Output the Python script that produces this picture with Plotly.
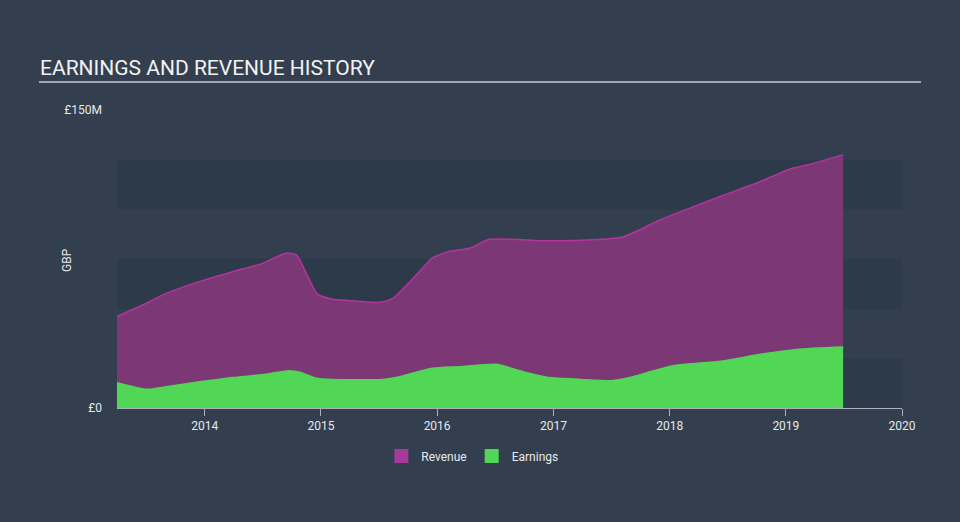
import plotly.graph_objects as go

rev_dates = ["2013-03-31", "2013-07-11", "2013-09-02", "2013-12-15", "2014-03-29", "2014-07-01",
             "2014-09-13", "2014-10-16", "2014-11-20", "2014-12-20", "2015-02-06", "2015-04-10",
             "2015-07-02", "2015-08-15", "2015-10-27", "2015-12-17", "2016-02-06", "2016-04-12",
             "2016-06-14", "2016-11-17", "2017-01-23", "2017-06-18", "2017-08-04", "2017-09-28",
             "2017-12-01", "2018-06-07", "2018-10-12", "2019-01-12", "2019-03-08", "2019-06-30"]
revenue = [46.0, 53.5, 57.7, 63.6, 68.6, 72.8,
           77.9, 77.0, 66.5, 57.5, 54.7, 54.0,
           53.2, 55.2, 66.9, 75.4, 78.7, 80.4,
           84.9, 84.2, 84.2, 85.1, 85.9, 89.6,
           94.6, 106.4, 113.9, 120.2, 122.3, 127.4]

earn_dates = ["2013-03-31", "2013-07-01", "2013-09-02", "2013-12-15", "2014-03-29", "2014-07-12",
              "2014-09-24", "2014-10-27", "2014-12-17", "2015-02-06", "2015-07-13", "2015-09-06",
              "2015-12-17", "2016-03-12", "2016-07-05", "2016-09-27", "2016-12-20", "2017-03-27",
              "2017-06-28", "2017-08-19", "2018-01-12", "2018-06-18", "2018-10-01", "2019-02-03",
              "2019-06-30"]
earnings = [12.7, 9.4, 10.7, 13.2, 15.3, 17.0,
            18.8, 18.0, 15.0, 14.4, 14.4, 15.8,
            20.0, 20.8, 22.0, 18.3, 15.3, 14.4,
            13.7, 15.0, 21.3, 23.7, 26.7, 29.5,
            30.7]

x_ticks = ["2014-01-01", "2015-01-01", "2016-01-01", "2017-01-01", "2018-01-01", "2019-01-01", "2020-01-01"]
x_labels = ["2014", "2015", "2016", "2017", "2018", "2019", "2020"]
y_ticks = [0, 150]
y_labels = ["£0", "£150M"]
bands = [(0, 25), (50, 75), (100, 125)]

BG = "#333f4f"
BAND = "#2d3a49"
TXT = "#e6e8ea"
REV_FILL, REV_LINE, EARN = "#7b3874", "#b4349f", "#52d655"
LEG_REV = "#a83a9a"

PL, PR, PT, PB = 117, 902, 110, 408
PW, PH = PR - PL, PB - PT

fig = go.Figure()
fig.add_trace(go.Scatter(
    x=rev_dates, y=revenue, name="Revenue", mode="lines", showlegend=False,
    line=dict(color=REV_LINE, width=1.5, shape="spline", smoothing=0.6),
    fill="tozeroy", fillcolor=REV_FILL,
))
fig.add_trace(go.Scatter(
    x=earn_dates, y=earnings, name="Earnings", mode="lines", showlegend=False,
    line=dict(color=EARN, width=1.5, shape="spline", smoothing=0.6),
    fill="tozeroy", fillcolor=EARN,
))
# legend entries with square swatches
for nm, col in [("Revenue", LEG_REV), ("Earnings", EARN)]:
    fig.add_trace(go.Scatter(x=[None], y=[None], name=nm, mode="markers",
                             marker=dict(symbol="square", size=14, color=col)))

shapes = []
for lo, hi in bands:
    shapes.append(dict(type="rect", xref="paper", yref="y", x0=0, x1=1, y0=lo, y1=hi,
                       fillcolor=BAND, line=dict(width=0), layer="below"))
shapes.append(dict(type="line", xref="paper", yref="paper",
                   x0=(39 - PL) / PW, x1=(921 - PL) / PW, y0=(PB - 82) / PH, y1=(PB - 82) / PH,
                   line=dict(color="#c8ccd0", width=1.5)))

fig.update_layout(
    width=960, height=522,
    paper_bgcolor=BG, plot_bgcolor="rgba(0,0,0,0)",
    margin=dict(l=PL, r=960 - PR, t=PT, b=522 - PB, autoexpand=False),
    font=dict(family="Roboto, sans-serif", color=TXT, size=12),
    shapes=shapes,
    showlegend=True,
    hovermode=False,
    legend=dict(orientation="h", xref="container", yref="container", x=0.492, y=1 - 456 / 522,
                xanchor="center", yanchor="middle", font=dict(size=12, color=TXT),
                itemwidth=30, bgcolor="rgba(0,0,0,0)"),
    annotations=[
        dict(text="EARNINGS AND REVENUE HISTORY", xref="paper", yref="paper",
             x=(38 - PL) / PW, y=(PB - 68) / PH, xanchor="left", yanchor="middle",
             showarrow=False, font=dict(size=21, color="#f2f2f2", family="Roboto, sans-serif")),
        dict(text="GBP", xref="paper", yref="paper", x=(67 - PL) / PW, y=(PB - 260) / PH,
             xanchor="center", yanchor="middle", textangle=-90, showarrow=False,
             font=dict(size=12, color=TXT)),
    ],
)
fig.update_xaxes(
    type="date", range=["2013-03-31", "2020-01-01"],
    tickvals=x_ticks, ticktext=x_labels,
    showgrid=False, zeroline=False,
    showline=True, linecolor="#a9b0b8", linewidth=1,
    ticks="outside", ticklen=7, tickcolor="#a9b0b8",
    tickfont=dict(size=12, color=TXT),
)
fig.update_yaxes(
    range=[0, 150], tickvals=y_ticks, ticktext=y_labels,
    showgrid=False, zeroline=False, showline=False,
    ticks="", ticklabelstandoff=14,
    tickfont=dict(size=12, color=TXT),
)

fig.write_html("out.html", config={"displayModeBar": False},
               post_script="document.body.style.margin='0';document.body.style.overflow='hidden';"
                           "document.body.style.background='" + BG + "';")
